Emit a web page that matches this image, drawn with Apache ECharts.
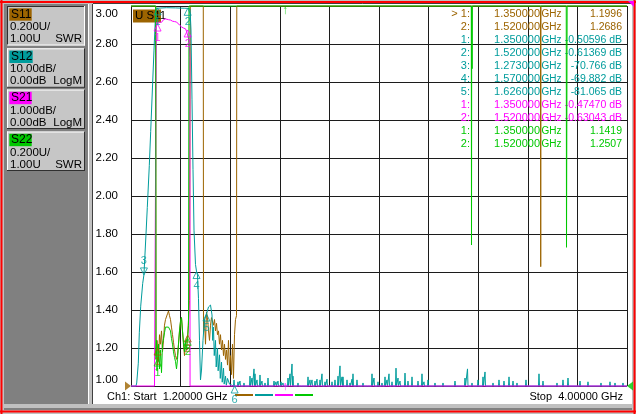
<!DOCTYPE html>
<html><head><meta charset="utf-8">
<script src="https://cdn.jsdelivr.net/npm/echarts@6/dist/echarts.min.js"></script>
<style>html,body{margin:0;padding:0;background:#c0c0c0;}#c{width:636px;height:414px;}</style>
</head><body><div id="c"></div>
<script>
// ================= DATA =================
const FREQ_START = 1.2, FREQ_STOP = 4.0;           // GHz
const swrTickLabels = ['1.00','1.20','1.40','1.60','1.80','2.00','2.20','2.40','2.60','2.80','3.00'];
const traceNames  = ['S11','S12','S21','S22'];
const traceColors = ['#9c6400','#009c9c','#ff00ff','#00c800'];
const traceScale  = ['0.200U/','10.00dB/','1.000dB/','0.200U/'];
const traceRef    = ['1.00U','0.00dB','0.00dB','1.00U'];
const traceFormat = ['SWR','LogM','LogM','SWR'];
const startText = 'Ch1: Start  1.20000 GHz';
const stopText  = 'Stop  4.00000 GHz';

// S11 (SWR, 0.2U/div, ref 1.00 at bottom) - off-scale shown at top (3.00)
const s11F = [1.2,1.3394,1.3411,1.3468,1.35,1.3552,1.3609,1.3665,1.3722,1.3778,1.3835,1.3891,1.3948,1.4004,1.4060,1.4117,1.4173,1.4230,1.4286,1.4343,1.4399,1.4456,1.4512,1.4569,1.4625,1.4681,1.4738,1.4794,1.4851,1.4907,1.4964,1.5020,1.5077,1.5133,1.52,1.5246,1.5302,1.5348,
  1.6081,1.6093,1.6149,1.6206,1.6262,1.6319,1.6375,1.6432,1.6488,1.6544,1.6601,1.6657,1.6714,1.6770,1.6827,1.6883,1.6940,1.6996,1.7052,1.7109,1.7165,1.7222,1.7278,1.7335,1.7391,1.7448,1.7504,1.7561,1.7617,1.7673,1.7730,1.7786,1.7843,1.7899,1.7956,1.7972,
  3.5115,3.513,3.5145,4.0];
const s11V = [3.0,3.0,1.16,1.24,1.1996,1.13,1.27,1.22,1.29,1.18,1.24,1.32,1.35,1.34,1.38,1.395,1.37,1.35,1.31,1.27,1.23,1.19,1.16,1.14,1.16,1.22,1.29,1.34,1.36,1.29,1.22,1.16,1.22,1.24,1.2686,1.35,1.45,3.0,
  3.0,1.28,1.35,1.22,1.39,1.36,1.29,1.24,1.32,1.36,1.37,1.32,1.35,1.29,1.33,1.27,1.29,1.22,1.27,1.19,1.24,1.16,1.22,1.14,1.19,1.11,1.24,1.08,1.16,1.06,1.22,1.04,1.27,1.35,1.37,3.0,
  3.0,1.628,3.0,3.0];

// S12 (dB, 10dB/div, ref 0 dB at top)
const s12F = [1.2,1.2282,1.2322,1.2412,1.2469,1.2548,1.2660,1.273,1.2847,1.2920,1.3033,1.3112,1.3225,1.3298,1.3372,1.3411,1.35,1.40,1.45,1.50,1.52,1.5331,1.5387,1.5444,1.55,1.5557,1.5641,1.57,1.5754,1.581,1.5867,1.5923,1.598,1.6064,1.6149,1.626,1.6375,1.6488,1.6573,1.6610,1.6657,1.6700,1.677,1.6810,1.6883,1.6920,1.6996,1.7040,1.7109,1.7150,1.7222,1.7260,1.7335,1.7380,1.7448,1.7561,1.7645];
const s12V = [-100,-100,-99.2,-94,-86,-79,-73,-70.766,-60,-53,-42,-33,-20,-11.6,-3.7,-0.6,-0.506,-0.45,-0.5,-0.58,-0.614,-0.8,-6.3,-24.7,-43,-59,-68,-69.882,-70.8,-77,-88,-98.4,-95.8,-88,-82.6,-81.065,-79.2,-78.7,-81.3,-88,-84.5,-92,-88,-95,-90,-96,-91.8,-98,-93.7,-99,-95.3,-99.5,-97.4,-99.8,-98,-99.5,-100];
// S12 noise floor: floor level and spikes (freq GHz, peak dB)
const s12Floor = -100;
const s12SpikeF = [1.7815,1.8040,1.8153,1.8379,1.8718,1.8831,1.8944,1.9000,1.9113,1.9282,1.9395,1.9565,1.9734,2.0073,2.0186,2.0298,2.0468,2.0581,2.0863,2.0976,2.1089,2.1145,2.1427,2.1653,2.1992,2.2105,2.2218,2.2387,2.2500,2.2669,2.2782,2.2952,2.3065,2.3347,2.3516,2.3686,2.3798,2.3911,2.3968,2.4194,2.4363,2.4476,2.4532,2.4758,2.5097,2.5379,2.5605,2.5718,2.5944,2.6169,2.6339,2.6452,2.6565,2.6734,2.6960,2.7073,2.7186,2.7468,2.7637,2.7863,2.8202,2.8427,2.8540,2.8766,2.9161,2.9613,3.0290,3.0855,3.0996,3.1250,3.1589,3.1871,3.1984,3.2436,3.2774,3.3056,3.3339,3.3565,3.3790,3.4298,3.5032,3.5258,3.6048,3.6387,3.6669,3.7347,3.7798,3.8532,3.9040,3.9323,3.9774];
const s12SpikeV = [-98.4,-98.9,-98.7,-99.2,-97.4,-97.9,-95.5,-96.8,-98.4,-97.1,-98.7,-99.2,-97.9,-98.7,-98.9,-98.7,-98.9,-99.2,-97.9,-96.8,-94.2,-97.4,-99.2,-99.5,-97.6,-98.4,-98.4,-98.7,-98.2,-98.4,-96.8,-98.9,-98.2,-98.9,-98.4,-97.4,-94.7,-97.6,-97.6,-98.4,-99.2,-98.2,-96.8,-98.4,-99.2,-99.5,-96.8,-97.9,-98.9,-99.2,-97.6,-98.4,-96.8,-98.9,-95.3,-97.9,-98.7,-96.6,-98.7,-97.6,-98.7,-96.8,-98.9,-98.4,-99.2,-99.2,-98.7,-97.9,-95.5,-99.2,-98.4,-97.6,-96.3,-99.2,-98.4,-98.7,-97.6,-98.7,-99.2,-98.4,-96.8,-98.7,-99.2,-98.4,-97.9,-98.7,-98.9,-99.2,-98.9,-99.2,-99.2];

// S21 (dB, 1dB/div, ref 0 dB at top) - off-scale at bottom (-10)
const s21F = [1.2,1.3327,1.3415,1.3425,1.35,1.3552,1.3609,1.3665,1.3722,1.3778,1.3835,1.3891,1.3948,1.4004,1.4060,1.4117,1.4173,1.4230,1.4286,1.4343,1.4399,1.4456,1.4512,1.4569,1.4625,1.4681,1.4738,1.4794,1.4851,1.4907,1.4964,1.5020,1.5077,1.5133,1.52,1.5246,1.5302,1.5320,1.5335,4.0];
const s21V = [-10,-10,-1.6,-0.42,-0.4747,-0.44,-0.42,-0.40,-0.43,-0.38,-0.36,-0.39,-0.34,-0.36,-0.33,-0.36,-0.33,-0.37,-0.35,-0.40,-0.36,-0.41,-0.44,-0.42,-0.47,-0.45,-0.50,-0.48,-0.55,-0.52,-0.58,-0.62,-0.60,-0.66,-0.6304,-0.85,-1.1,-1.35,-10,-10];

// S22 (SWR)
const s22F = [1.2,1.3394,1.3411,1.3440,1.3468,1.35,1.3552,1.3609,1.3665,1.3722,1.3778,1.3835,1.3891,1.3948,1.4004,1.4060,1.4117,1.4173,1.4230,1.4286,1.4343,1.4399,1.4456,1.4512,1.4569,1.4625,1.4681,1.4738,1.4794,1.4851,1.4907,1.4964,1.5020,1.5077,1.5133,1.52,1.5246,1.5274,
  3.1210,3.1222,3.1235,3.1255,3.1270,3.6570,3.6585,3.6605,3.6620,4.0];
const s22V = [3.0,3.0,1.14,1.24,1.08,1.1419,1.22,1.09,1.19,1.07,1.22,1.25,1.28,1.31,1.32,1.32,1.31,1.32,1.29,1.25,1.22,1.18,1.15,1.13,1.09,1.14,1.22,1.29,1.34,1.36,1.29,1.23,1.18,1.24,1.19,1.2507,1.32,3.0,
  3.0,1.742,3.0,2.67,3.0,3.0,1.73,1.73,3.0,3.0];

// Markers (from the marker table)
const s11MkF = [1.35,1.52], s11MkV = [1.1996,1.2686];
const s12MkF = [1.35,1.52,1.273,1.57,1.626], s12MkV = [-0.50596,-0.61369,-70.766,-69.882,-81.065];
const s21MkF = [1.35,1.52], s21MkV = [-0.47470,-0.63043];
const s22MkF = [1.35,1.52], s22MkV = [1.1419,1.2507];
const s12Mk6 = [1.785,-100];
const arrowF = 2.069;

// ================= CHART =================
const FONT = '"Liberation Sans", Arial, sans-serif';
const G = [];
function rect(x,y,w,h,fill,z){G.push({type:'rect',shape:{x,y,width:w,height:h},style:{fill},z:z===undefined?-10:z,silent:true});}
function ln(x1,y1,x2,y2,stroke,w,z){G.push({type:'line',shape:{x1,y1,x2,y2},style:{stroke,lineWidth:w||1},z:z===undefined?-9:z,silent:true});}
function txt(x,y,s,fill,align,size,z){G.push({type:'text',x,y,style:{text:s,fill,font:(size||11)+'px '+FONT,textAlign:align||'left',textVerticalAlign:'middle',align:align||'left',verticalAlign:'middle'},z:z===undefined?1:z,silent:true});}

// frame
rect(0,0,636,414,'#c0c0c0');
rect(4,4,84,400,'#808080');
ln(88.5,4,88.5,404,'#ffffff',1);
rect(93,4,539,400,'#ffffff');
ln(92.5,4,92.5,404,'#404040',1);
ln(93,3.5,632,3.5,'#404040',1);
ln(0,2,636,2,'#ff0000',2);
ln(0,411.5,636,411.5,'#ff0000',2);
ln(1.5,0,1.5,414,'#ff0000',2);
ln(634.5,0,634.5,414,'#ff0000',2);
ln(4,409,632,409,'#404040',1);

// trace boxes
const boxTop = [6,48.3,89.5,131.5];
for(let i=0;i<4;i++){
  const y=boxTop[i], x=7, w=78, h=39.5, sunk=(i===0);
  rect(x,y,w,h,'#c6c6c6',-8);
  const tl = sunk?'#303030':'#ffffff', br = sunk?'#ffffff':'#303030';
  ln(x,y+0.5,x+w,y+0.5,tl,1,-7); ln(x+0.5,y,x+0.5,y+h,tl,1,-7);
  ln(x,y+h-0.5,x+w,y+h-0.5,br,1,-7); ln(x+w-0.5,y,x+w-0.5,y+h,br,1,-7);
  rect(x+2.3,y+2.3,(i===1?23.4:22.4),12.4,traceColors[i],-6);
  txt(x+4,y+8.5,traceNames[i],'#000','left',12);
  txt(x+3,y+21,traceScale[i],'#000','left',11.5);
  txt(x+3,y+33,traceRef[i],'#000','left',11.5);
  txt(x+w-3,y+33,traceFormat[i],'#000','right',11.5);
}

// bottom texts & legend lines
txt(107,397,startText,'#000','left',11);
txt(623,397,stopText,'#000','right',11);
const legX=[235,255,275,295];
for(let i=0;i<4;i++) ln(legX[i],395,legX[i]+18,395,traceColors[i],2,1);

// "U S11" active trace tag
rect(133,9.5,28,13,traceColors[0],0);
txt(135,16.3,'U S11','#000','left',11.5);

// marker table
const rows=[];
s11MkF.forEach((f,i)=>rows.push({c:traceColors[0],n:(i===0?'> ':'')+(i+1)+':',f,v:s11MkV[i].toPrecision(5)}));
s12MkF.forEach((f,i)=>rows.push({c:traceColors[1],n:(i+1)+':',f,v:s12MkV[i].toPrecision(5)+' dB'}));
s21MkF.forEach((f,i)=>rows.push({c:traceColors[2],n:(i+1)+':',f,v:s21MkV[i].toPrecision(5)+' dB'}));
s22MkF.forEach((f,i)=>rows.push({c:traceColors[3],n:(i+1)+':',f,v:s22MkV[i].toPrecision(5)}));
rows.forEach((r,i)=>{
  const y=14+i*13.03;
  txt(470,y,r.n,r.c,'right',11);
  txt(540,y,r.f.toFixed(6),r.c,'right',11);
  txt(541.5,y,'GHz',r.c,'left',10);
  txt(622,y,r.v,r.c,'right',10.5);
});
// small magenta corner tag
G.push({type:'polygon',shape:{points:[[628,1],[634,1],[634,7]]},style:{fill:'#ff00ff'},z:1,silent:true});

// build series data
const zip=(F,V)=>F.map((f,i)=>[f,V[i]]);
const s12Data = zip(s12F,s12V);
const dF=0.0028;
s12SpikeF.forEach((f,i)=>{ s12Data.push([f-dF,s12Floor],[f,s12SpikeV[i]],[f+dF,s12Floor]); });
s12Data.push([FREQ_STOP,s12Floor]);

function lineSeries(data,color,yIdx,z,w){
  return {type:'line',xAxisIndex:1,yAxisIndex:yIdx,data,symbol:'none',showSymbol:false,clip:false,animation:false,z,
    lineStyle:{color,width:w||1},emphasis:{disabled:true},silent:true};
}
const TRI_UP='path://M5,0 L10,9 L0,9 Z', TRI_DN='path://M0,0 L10,0 L5,9 Z';
function mkSeries(color,yIdx,pts,labels,flips){
  return {type:'scatter',xAxisIndex:1,yAxisIndex:yIdx,clip:false,animation:false,z:6,silent:true,
    data:pts.map((p,i)=>({value:p,symbol:flips[i]?TRI_DN:TRI_UP,symbolOffset:[0,flips[i]?-3.5:3.5],
      label:{formatter:labels[i],position:flips[i]?'top':'bottom',distance:1}})),
    symbolSize:[7,7],
    itemStyle:{color:'rgba(0,0,0,0)',borderColor:color,borderWidth:1},
    label:{show:true,color,fontSize:11,fontFamily:FONT}};
}

const option={
  backgroundColor:'#c0c0c0',
  animation:false,
  graphic:{elements:G},
  grid:{left:131,top:6,width:496,height:380,show:false},
  xAxis:[
    {type:'value',min:0,max:10,interval:1,axisLine:{show:false},axisTick:{show:false},axisLabel:{show:false},
     splitLine:{show:true,lineStyle:{color:'#1c1c1c',width:1}}},
    {type:'value',min:FREQ_START,max:FREQ_STOP,show:false}
  ],
  yAxis:[
    {type:'value',min:1,max:3,interval:0.2,axisLine:{show:false},axisTick:{show:false},
     axisLabel:{formatter:v=>{const s=swrTickLabels[Math.round((v-1)/0.2)];return v>=2.999?'{t|'+s+'}':s;},
       rich:{t:{lineHeight:16,fontSize:11.5,fontFamily:FONT,color:'#000'}},
       color:'#000',fontSize:11.5,fontFamily:FONT,margin:13,
       verticalAlignMaxLabel:'top',verticalAlignMinLabel:'bottom'},
     splitLine:{show:true,lineStyle:{color:'#1c1c1c',width:1}}},
    {type:'value',min:-100,max:0,show:false},
    {type:'value',min:-10,max:0,show:false}
  ],
  series:[
    lineSeries(zip(s11F,s11V),traceColors[0],0,2),
    lineSeries(s12Data,traceColors[1],1,3),
    lineSeries(zip(s21F,s21V),traceColors[2],2,4),
    lineSeries(zip(s22F,s22V),traceColors[3],0,5),
    mkSeries(traceColors[0],0,zip(s11MkF,s11MkV),['1','2'],[false,false]),
    mkSeries(traceColors[1],1,zip(s12MkF,s12MkV).concat([s12Mk6]),['1','2','3','4','5','6'],[false,false,true,false,false,false]),
    mkSeries(traceColors[2],2,zip(s21MkF,s21MkV),['1','2'],[false,false]),
    mkSeries(traceColors[3],0,zip(s22MkF,s22MkV),['1','2'],[false,false]),
    {type:'scatter',xAxisIndex:1,yAxisIndex:0,clip:false,animation:false,z:7,silent:true,
     data:[
       {value:[FREQ_START,1.0],symbol:'path://M0,0 L9,5 L0,10 Z',symbolSize:[6,9],symbolOffset:[-3,0],itemStyle:{color:traceColors[0]}},
       {value:[FREQ_STOP,1.0],symbol:'path://M9,0 L0,5 L9,10 Z',symbolSize:[6,9],symbolOffset:[3,0],itemStyle:{color:traceColors[3]}},
       {value:[arrowF,3.0],symbolSize:1,itemStyle:{color:'rgba(0,0,0,0)'},label:{show:true,formatter:'↑',color:traceColors[3],position:'inside',offset:[0,5],fontSize:12}},
       {value:[arrowF,1.0],symbolSize:1,itemStyle:{color:'rgba(0,0,0,0)'},label:{show:true,formatter:'↑',color:traceColors[2],position:'inside',offset:[0,1],fontSize:12}}
     ]}
  ]
};
const chart=echarts.init(document.getElementById('c'),null,{renderer:'canvas',width:636,height:414});
chart.setOption(option);
</script>
</body></html>
